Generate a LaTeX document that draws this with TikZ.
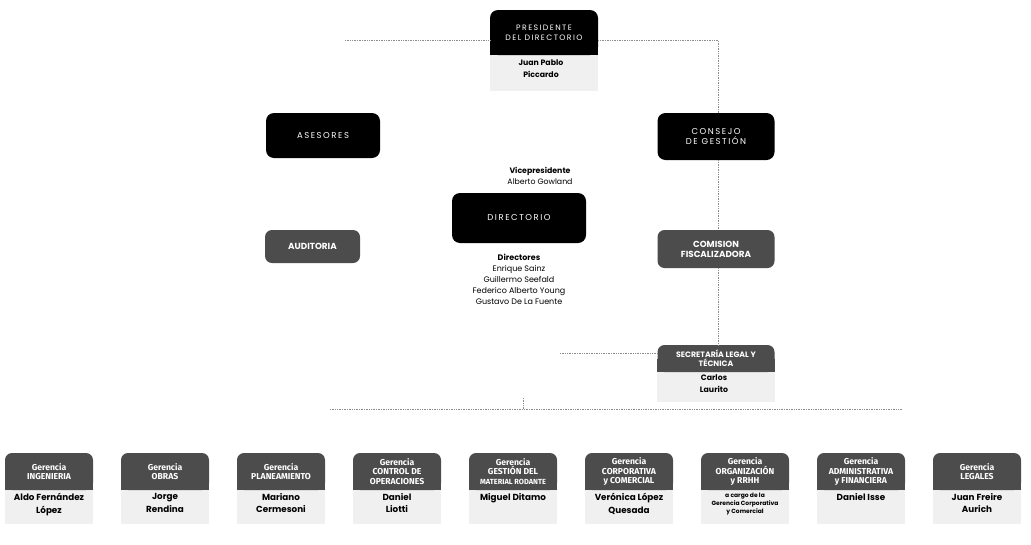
\documentclass[tikz,border=0pt]{standalone}
\usepackage{fontspec}
\setmainfont{Poppins}
\newfontfamily\spc[LetterSpace=18]{Poppins}
\newfontfamily\hdrfont{Fira Sans}
\usetikzlibrary{backgrounds}
\begin{document}
\begin{tikzpicture}[x=1pt,y=-1pt,
  blk/.style={fill=black, rounded corners=8pt, text=white, align=center, inner sep=0pt, font=\spc\fontsize{7.8}{10}\selectfont},
  gry/.style={fill=black!70, rounded corners=7pt, text=white, align=center, inner sep=0pt, font=\bfseries\fontsize{8.8}{10}\selectfont},
  hdr/.style={fill=black!70, rounded corners=7pt, text=white, align=center, inner sep=0pt, font=\hdrfont\bfseries\fontsize{8.6}{9.4}\selectfont, minimum width=88pt, minimum height=37pt},
  nm/.style={align=center, font=\bfseries\fontsize{7.8}{12}\selectfont, inner sep=0pt, anchor=north},
  bnm/.style={align=center, font=\bfseries\fontsize{8.8}{12.5}\selectfont, inner sep=0pt, anchor=north},
  small/.style={align=center, font=\bfseries\fontsize{6}{8}\selectfont, inner sep=0pt, anchor=north},
  body/.style={fill=black!6},
  conn/.style={black!45, densely dotted, line width=0.7pt}]
\useasboundingbox (0,0) rectangle (1031,544);

% top level
\node[blk, minimum width=108pt, minimum height=45pt] (pres) at (544,32.5) {PRESIDENTE\\DEL DIRECTORIO};
\node[nm] (presn) at (541,59.5) {Juan Pablo\\Piccardo};
\node[blk, minimum width=114pt, minimum height=45pt, font=\spc\fontsize{8.5}{10}\selectfont] (ase) at (323,135.5) {ASESORES};
\node[blk, minimum width=117pt, minimum height=47pt, font=\spc\fontsize{8.5}{10.5}\selectfont] (cons) at (716,136.5) {CONSEJO\\DE GESTIÓN};
\node[nm, font=\fontsize{7.8}{11.5}\selectfont] (vice) at (540,167) {\textbf{Vicepresidente}\\Alberto Gowland};
\node[blk, minimum width=134pt, minimum height=50pt, font=\spc\fontsize{8.5}{10}\selectfont] (dir) at (519,218) {DIRECTORIO};
\node[gry, minimum width=95pt, minimum height=33pt] (aud) at (312.5,246.5) {AUDITORIA};
\node[gry, minimum width=117pt, minimum height=38pt] (com) at (716,249) {COMISION\\FISCALIZADORA};
\node[nm, font=\fontsize{8}{11}\selectfont] (dirs) at (519,254) {\textbf{Directores}\\Enrique Sainz\\Guillermo Seefald\\Federico Alberto Young\\Gustavo De La Fuente};
\node[gry, minimum width=117pt, minimum height=27pt, font=\bfseries\fontsize{7.8}{8.6}\selectfont] (sec) at (716,358.5) {SECRETARÍA LEGAL Y\\TÉCNICA};
\node[nm] (secn) at (714,375) {Carlos\\Laurito};

\begin{scope}[on background layer]
  \fill[black] (pres.west) rectangle (pres.south east);
  \fill[body] (pres.south west) rectangle ([yshift=-36pt]pres.south east);
  \fill[black!70] (sec.west) rectangle (sec.south east);
  \fill[body] (sec.south west) rectangle ([yshift=-30pt]sec.south east);
\end{scope}

% connectors
\coordinate (l1) at (345,40);
\coordinate (r1) at (718,40);
\draw[conn] (l1) -- (pres.west |- l1);
\draw[conn] (pres.east |- r1) -- (r1) -- (r1 |- cons.north);
\draw[conn] (r1 |- cons.south) -- (r1 |- com.north);
\draw[conn] (r1 |- com.south) -- (r1 |- sec.north);
\coordinate (s1) at (560,353);
\draw[conn] (s1) -- (sec.west |- s1);
\coordinate (b1) at (330,409);
\coordinate (b2) at (902,409);
\draw[conn] (b1) -- (b2);
\coordinate (t1) at (523,398);
\draw[conn] (t1) -- (t1 |- b1);

% bottom row
\foreach \i/\t/\n in {
  0/{Gerencia\\INGENIERIA}/{Aldo Fernández\\López},
  1/{Gerencia\\OBRAS}/{Jorge\\Rendina},
  2/{Gerencia\\PLANEAMIENTO}/{Mariano\\Cermesoni},
  3/{Gerencia\\CONTROL DE\\OPERACIONES}/{Daniel\\Liotti},
  4/{Gerencia\\GESTIÓN DEL\\{\fontsize{7.4}{9.4}\selectfont MATERIAL RODANTE}}/{Miguel Ditamo},
  5/{Gerencia\\CORPORATIVA\\y COMERCIAL}/{Verónica López\\Quesada},
  7/{Gerencia\\ADMINISTRATIVA\\y FINANCIERA}/{Daniel Isse},
  8/{Gerencia\\LEGALES}/{Juan Freire\\Aurich}} {
  \node[hdr] (g\i) at ({49+116*\i},471.5) {\t};
  \node[bnm] (n\i) at ([yshift=-3pt]g\i.south) {\n};
  \begin{scope}[on background layer]
    \fill[black!70] (g\i.west) rectangle (g\i.south east);
    \fill[body] (g\i.south west) rectangle ([yshift=-34pt]g\i.south east);
  \end{scope}
}
\node[hdr] (g6) at ({49+116*6},471.5) {Gerencia\\ORGANIZACIÓN\\y RRHH};
\node[small] (n6) at ([yshift=-3pt]g6.south) {a cargo de la\\Gerencia Corporativa\\y Comercial};
\begin{scope}[on background layer]
  \fill[black!70] (g6.west) rectangle (g6.south east);
  \fill[body] (g6.south west) rectangle ([yshift=-34pt]g6.south east);
\end{scope}
\end{tikzpicture}
\end{document}
